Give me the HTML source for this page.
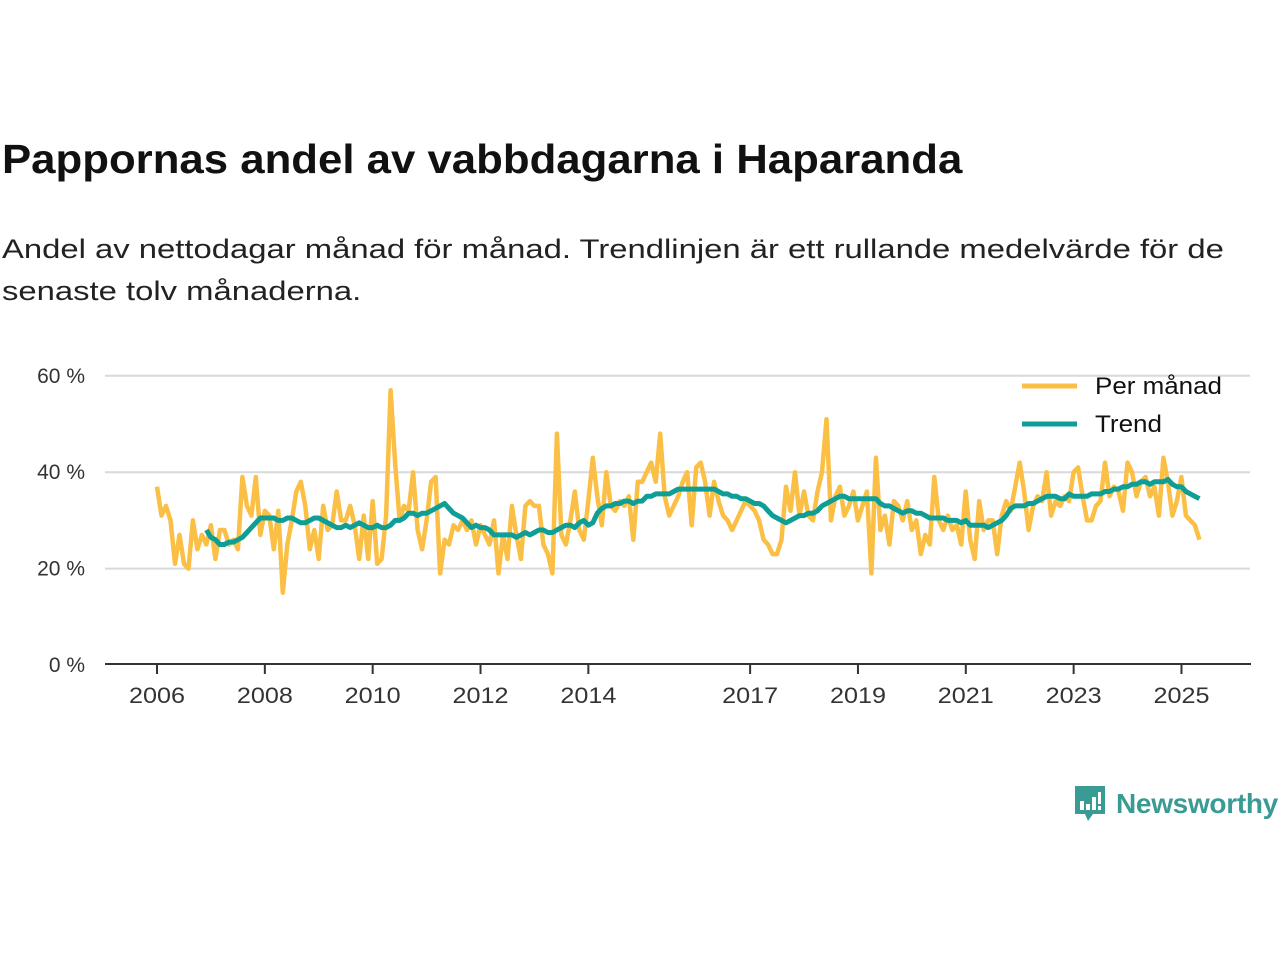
<!DOCTYPE html>
<html><head><meta charset="utf-8"><style>
body{margin:0;background:#fff;font-family:"Liberation Sans",sans-serif;}
#wrap{position:relative;width:1280px;height:960px;overflow:hidden;}
h1{position:absolute;left:2px;top:136px;margin:0;font-size:41px;font-weight:bold;color:#111;white-space:nowrap;transform:scaleX(1.067);transform-origin:left;}
p{position:absolute;left:2px;top:228px;margin:0;font-size:27px;line-height:42px;color:#222;white-space:nowrap;transform:scaleX(1.215);transform-origin:left;}
</style></head><body><div id="wrap">
<h1>Pappornas andel av vabbdagarna i Haparanda</h1>
<p>Andel av nettodagar månad för månad. Trendlinjen är ett rullande medelvärde för de<br>senaste tolv månaderna.</p>
<svg id="chart" width="1280" height="960" style="position:absolute;left:0;top:0"></svg>
<div style="position:absolute;left:1073px;top:784px;display:flex;align-items:center;">
<svg width="34" height="40" viewBox="0 0 34 40"><path d="M2 2h30v28H20l-5 7-3-7H2z" fill="#3a9a94"/><rect x="7" y="17" width="4" height="9" fill="#fff"/><rect x="13" y="20" width="4" height="6" fill="#fff"/><rect x="19" y="13" width="4" height="13" fill="#fff"/><rect x="25" y="8" width="3" height="12" fill="#fff"/><rect x="25" y="22" width="3" height="4" fill="#fff"/></svg>
<span style="color:#3a9a94;font-size:28px;font-weight:bold;margin-left:9px;letter-spacing:-0.3px">Newsworthy</span></div>
</div>
<script>
const monthly=[37,31,33,30,21,27,21,20,30,24,27,25,
29,22,28,28,25,26,24,39,33,31,39,27,
32,31,24,32,15,25,30,36,38,33,24,28,
22,33,28,29,36,30,30,33,29,22,31,22,
34,21,22,31,57,42,30,33,32,40,28,24,
30,38,39,19,26,25,29,28,30,28,30,25,
29,27,25,30,19,27,22,33,27,22,33,34,
33,33,25,23,19,48,27,25,30,36,28,26,
34,43,35,29,40,33,32,34,33,35,26,38,
38,40,42,38,48,35,31,33,35,38,40,29,
41,42,38,31,38,34,31,30,28,30,32,34,
33,32,30,26,25,23,23,26,37,32,40,31,
36,31,30,36,40,51,30,35,37,31,33,36,
30,33,36,19,43,28,31,25,34,33,30,34,
28,30,23,27,25,39,30,28,31,28,29,25,
36,26,22,34,28,30,30,23,31,34,32,37,
42,36,28,33,35,34,40,31,34,33,35,34,
40,41,35,30,30,33,34,42,35,37,36,32,
42,40,35,38,39,35,37,31,43,38,31,34,
39,31,30,29,26];
const trend=[28,26.5,26,25,25,25.5,25.5,26,26.5,27.5,28.5,29.5,30.5,
30.5,30.5,30.5,30,30,30.5,30.5,30,29.5,29.5,30,30.5,
30.5,30,29.5,29,28.5,28.5,29,28.5,29,29.5,29,28.5,
28.5,29,28.5,28.5,29,30,30,30.5,31.5,31.5,31,31.5,
31.5,32,32.5,33,33.5,32.5,31.5,31,30.5,29.5,28.5,29,
28.5,28.5,28,27,27,27,27,27,26.5,27,27.5,27,
27.5,28,28,27.5,27.5,28,28.5,29,29,28.5,29.5,30,
29,29.5,31.5,32.5,33,33,33.5,33.5,34,34,33.5,34,
34,35,35,35.5,35.5,35.5,35.5,36,36.5,36.5,36.5,36.5,
36.5,36.5,36.5,36.5,36.5,36,35.5,35.5,35,35,34.5,34.5,
34,33.5,33.5,33,32,31,30.5,30,29.5,30,30.5,31,
31,31.5,31.5,32,33,33.5,34,34.5,35,35,34.5,34.5,
34.5,34.5,34.5,34.5,34.5,33.5,33,33,32.5,32,31.5,32,
32,31.5,31.5,31,30.5,30.5,30.5,30.5,30,30,30,29.5,
30,29,29,29,29,28.5,29,29.5,30,31,32.5,33,
33,33,33.5,33.5,34,34.5,35,35,35,34.5,34.5,35.5,
35,35,35,35,35.5,35.5,35.5,36,36,36.5,36.5,37,
37,37.5,37.5,38,38,37.5,38,38,38,38.5,37.5,37,
37,36,35.5,35,34.5];
const yTicks=[0,20,40,60];
const xTicks=[2006,2008,2010,2012,2014,2017,2019,2021,2023,2025];
const NS='http://www.w3.org/2000/svg';
const svg=document.getElementById('chart');
const y=v=>665-v*4.82;
const xm=i=>157+i*4.493;
const xy=yr=>157+(yr-2006)*53.92;
function mk(t,a){const e=document.createElementNS(NS,t);for(const k in a)e.setAttribute(k,a[k]);svg.appendChild(e);return e;}
yTicks.forEach(v=>{
 if(v>0){const g=mk('line',{x1:105,x2:1250,y1:y(v),y2:y(v),stroke:'#d9d9d9','stroke-width':2});
 
 }
 const t=mk('text',{x:85,y:y(v)+7,'text-anchor':'end','font-size':21,fill:'#333','font-family':'Liberation Sans, sans-serif'});
 t.textContent=v+' %';
 
 
});
const ax=mk('line',{x1:105,x2:1251,y1:664,y2:664,stroke:'#333','stroke-width':2});


xTicks.forEach(yr=>{
 const tk=mk('line',{x1:xy(yr),x2:xy(yr),y1:664,y2:674,stroke:'#333','stroke-width':2});
 
 
 const t=mk('text',{x:xy(yr)-28,y:703,'font-size':22,fill:'#333','font-family':'Liberation Sans, sans-serif',textLength:56,lengthAdjust:'spacingAndGlyphs'});
 t.textContent=yr;
 
 
});
const mp=monthly.map((v,i)=>xm(i).toFixed(1)+','+y(v).toFixed(1)).join(' ');
const l1=mk('polyline',{points:mp,fill:'none',stroke:'#fbbf45','stroke-width':4.5,'stroke-linejoin':'round'});


const off=monthly.length-trend.length;
const tp=trend.map((v,i)=>xm(i+off).toFixed(1)+','+y(v).toFixed(1)).join(' ');
const l2=mk('polyline',{points:tp,fill:'none',stroke:'#0f9e95','stroke-width':5,'stroke-linejoin':'round'});


const lg=[['Per månad','#fbbf45',386,127],['Trend','#0f9e95',424,67]];
lg.forEach(([n,c,yy,w])=>{
 const ls=mk('line',{x1:1022,x2:1077,y1:yy,y2:yy,stroke:c,'stroke-width':5});
 
 
 const t=mk('text',{x:1095,y:yy+8,'font-size':24,fill:'#111','font-family':'Liberation Sans, sans-serif',textLength:w,lengthAdjust:'spacingAndGlyphs'});
 t.textContent=n;
 
 
});
</script>
</body></html>
